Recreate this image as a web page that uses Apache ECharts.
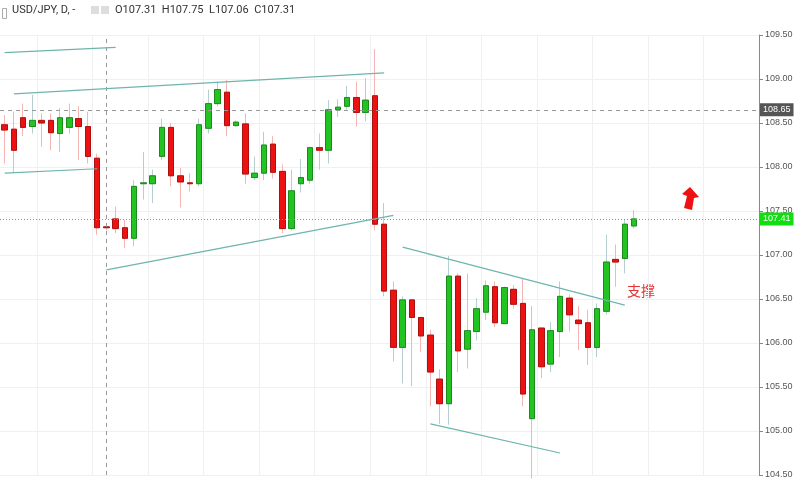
<!DOCTYPE html>
<html><head><meta charset="utf-8">
<script src="https://cdn.jsdelivr.net/npm/echarts@6/dist/echarts.min.js"></script>
<style>html,body{margin:0;padding:0;background:#fff}#c{width:800px;height:484px}</style>
</head><body><div id="c"></div>
<script>
// [open, close, low, high]
const candles = [
[108.48,108.42,108.04,108.59],[108.43,108.19,107.93,108.63],[108.56,108.45,108.35,108.72],[108.46,108.53,108.38,108.82],
[108.53,108.50,108.23,108.61],[108.53,108.39,108.19,108.61],[108.38,108.56,108.17,108.67],[108.45,108.56,108.38,108.72],
[108.55,108.46,108.08,108.69],[108.46,108.12,108.04,108.63],[108.10,107.31,107.23,108.15],[107.32,107.31,107.28,107.34],
[107.41,107.30,107.25,107.55],[107.31,107.19,107.08,107.40],[107.19,107.78,107.10,107.85],[107.81,107.82,107.63,108.17],
[107.81,107.90,107.59,107.97],[108.12,108.45,108.08,108.55],[108.45,107.90,107.78,108.50],[107.90,107.83,107.54,107.99],
[107.82,107.81,107.72,107.93],[107.81,108.48,107.78,108.55],[108.44,108.72,108.38,108.88],[108.72,108.88,108.69,108.97],
[108.85,108.47,108.35,108.99],[108.47,108.51,108.46,108.53],[108.49,107.92,107.81,108.61],[107.88,107.93,107.85,108.12],
[107.93,108.25,107.85,108.40],[108.26,107.94,107.87,108.35],[107.95,107.30,107.25,108.03],[107.30,107.73,107.28,107.97],
[107.81,107.88,107.71,108.09],[107.85,108.22,107.81,108.23],[108.22,108.19,107.97,108.38],[108.19,108.65,108.04,108.76],
[108.65,108.68,108.57,108.77],[108.69,108.79,108.65,108.92],[108.79,108.62,108.46,108.97],[108.62,108.76,108.52,109.01],
[108.81,107.35,107.28,109.34],[107.35,106.59,106.53,107.59],[106.60,105.95,105.79,106.70],[105.95,106.49,105.54,106.53],
[106.49,106.29,105.51,106.49],[106.29,106.08,105.90,106.29],[106.09,105.67,105.28,106.15],[105.59,105.31,105.08,105.70],
[105.31,106.76,105.07,106.99],[106.76,105.91,105.67,106.79],[105.93,106.14,105.71,106.79],[106.13,106.39,106.03,106.51],
[106.35,106.65,106.26,106.71],[106.64,106.23,106.18,106.70],[106.22,106.63,106.22,106.64],[106.61,106.44,106.39,106.66],
[106.45,105.42,105.28,106.73],[105.14,106.15,104.46,106.42],[106.17,105.73,105.60,106.17],[105.76,106.14,105.67,106.24],
[106.13,106.53,105.84,106.70],[106.51,106.32,106.13,106.55],[106.26,106.22,105.92,106.42],[106.23,105.95,105.75,106.38],
[105.95,106.39,105.84,106.45],[106.36,106.92,106.32,107.23],[106.95,106.92,106.64,107.12],[106.96,107.35,106.79,107.40],
[107.33,107.41,107.30,107.51]
];
const emptySlots = 13;
const categories = [];
for (let i = 0; i < candles.length + emptySlots; i++) categories.push('d' + i);
const trendLines = [
  [[0,109.30],[12,109.36]],
  [[1,108.83],[41,109.07]],
  [[0,107.93],[10,107.98]],
  [[11,106.83],[42,107.45]],
  [[43,107.09],[67,106.43]],
  [[46,105.08],[60,104.75]]
];
const refPrice = 108.65;
const lastPrice = 107.41;
const crossIdx = 11;

const bodies = candles.map(c => [c[0], c[1], Math.min(c[0],c[1]), Math.max(c[0],c[1])]);
const chart = echarts.init(document.getElementById('c'));
chart.setOption({
  animation:false,
  grid:{left:-3,right:41,top:35,bottom:9},
  xAxis:{type:'category',data:categories,boundaryGap:true,
    axisLine:{show:false},axisTick:{show:false},axisLabel:{show:false},
    splitLine:{show:true,interval:(i)=>i%6===4,lineStyle:{color:'#eef0f2'}}},
  yAxis:{type:'value',position:'right',min:104.5,max:109.5,interval:0.5,scale:true,
    axisLine:{show:true,lineStyle:{color:'#888'}},axisTick:{show:true,length:4,lineStyle:{color:'#888'}},
    axisLabel:{fontSize:9,color:'#555',margin:6,formatter:v=>v.toFixed(2)},
    splitLine:{lineStyle:{color:'#eef0f2'}}},
  series:[
    {type:'candlestick',data:candles,barWidth:6,clip:false,
      itemStyle:{color:'#22c422',color0:'#ee1111',borderColor:'#b5cfd0',borderColor0:'#f5b5b5',borderWidth:1},
      markLine:{symbol:'none',silent:true,animation:false,
        data:[
          {xAxis:crossIdx,lineStyle:{color:'#999',type:[4,4],width:1},label:{show:false}},
          {yAxis:refPrice,lineStyle:{color:'#999',type:[4,4],width:1},
            label:{show:true,position:'end',formatter:refPrice.toFixed(2),color:'#fff',backgroundColor:'#555',padding:[2,3],fontSize:9,distance:1}},
          {yAxis:lastPrice,lineStyle:{color:'#22dd22',type:[1,2],width:1},
            label:{show:true,position:'end',formatter:lastPrice.toFixed(2),color:'#fff',backgroundColor:'#11dd11',padding:[2,3],fontSize:9,distance:1}}
        ].concat(trendLines.map(l=>[{coord:l[0],lineStyle:{color:'#6db5ad',type:'solid',width:1.2},label:{show:false}},{coord:l[1]}]))
      }},
    {type:'candlestick',data:bodies,barWidth:6,clip:false,
      itemStyle:{color:'#22c422',color0:'#ee1111',borderColor:'#1c8a1c',borderColor0:'#aa1111',borderWidth:1}}
  ],
  graphic:[
    {type:'text',left:12,top:5,style:{text:'USD/JPY, D, -',fontSize:11,fill:'#333',fontFamily:'Roboto'}},
    {type:'rect',left:91,top:6,shape:{width:8,height:8},style:{fill:'#ddd'}},
    {type:'rect',left:101,top:6,shape:{width:8,height:8},style:{fill:'#ddd'}},
    {type:'text',left:115,top:5,style:{text:'O107.31  H107.75  L107.06  C107.31',fontSize:11,fill:'#333',fontFamily:'Roboto'}},
    {type:'rect',left:0,top:6,shape:{width:4,height:10},style:{fill:'none',stroke:'#aaa'}},
    {type:'text',left:627,top:284,style:{text:'支撑',fontSize:14,fill:'#e53333',fontFamily:'Noto Sans CJK SC'}},
    {type:'polygon',shape:{points:[[690,187],[699,197],[694,198],[692,210],[684,208],[687,196],[682,194]]},style:{fill:'#ee1111'}}
  ]
});
</script></body></html>
